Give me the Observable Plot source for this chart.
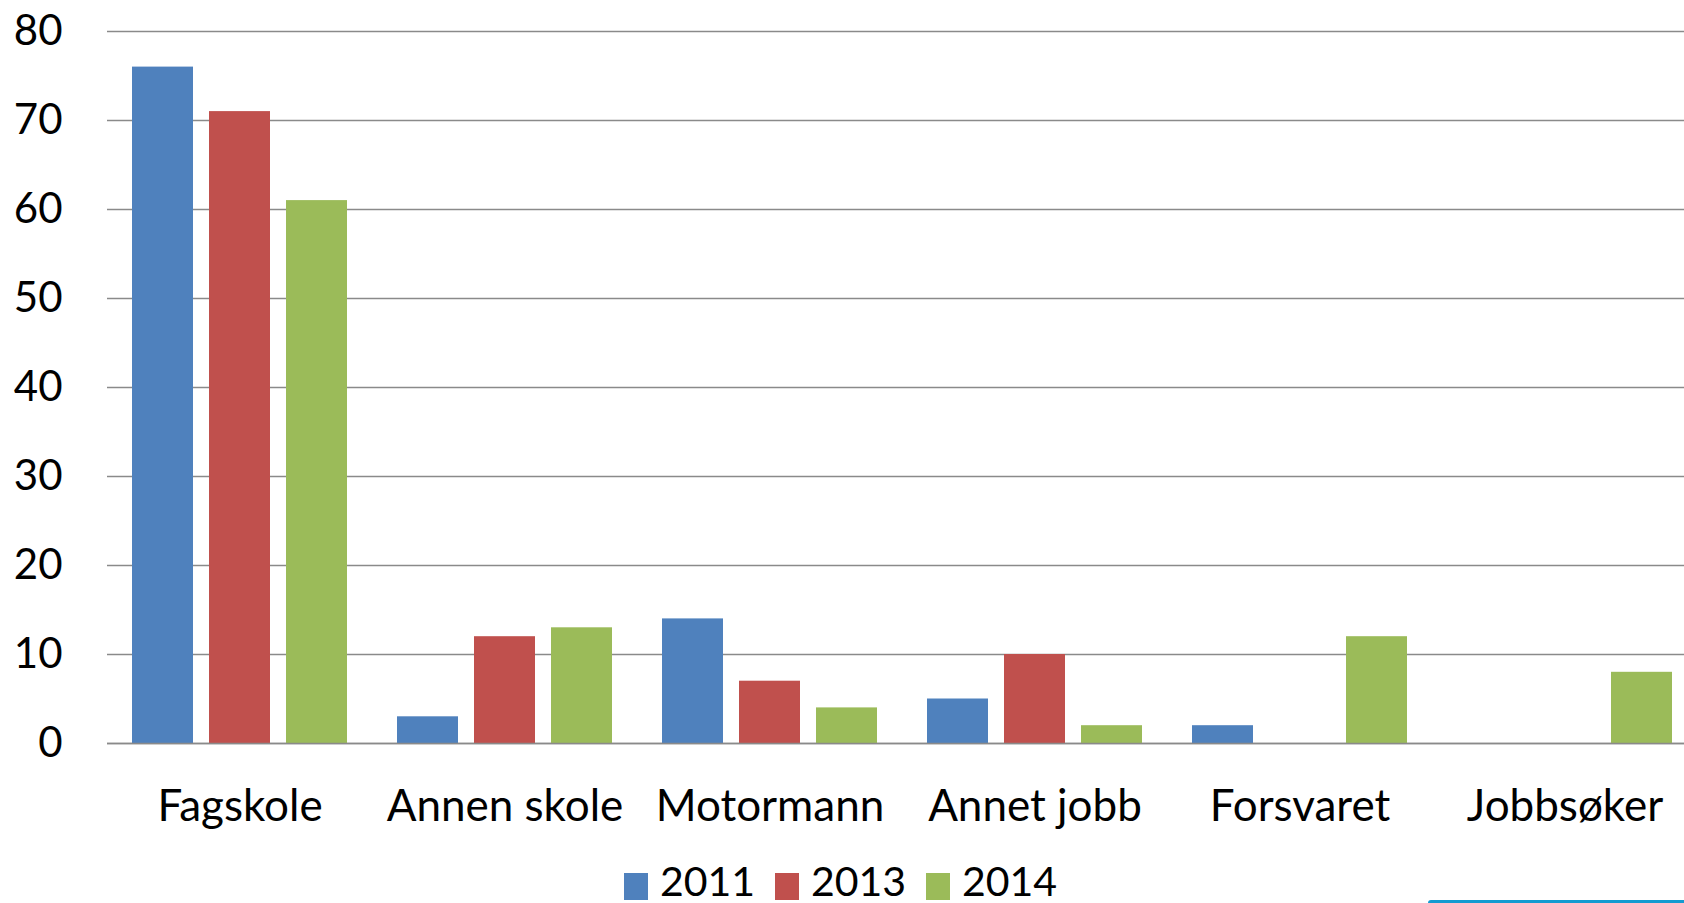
<!DOCTYPE html>
<html>
<head>
<meta charset="utf-8">
<script src="https://cdn.jsdelivr.net/npm/d3@7"></script>
<script src="https://cdn.jsdelivr.net/npm/@observablehq/plot@0.6"></script>
<style>
  html, body { margin: 0; padding: 0; background: #fff; overflow: hidden; }
  body { width: 1684px; height: 903px; position: relative; overflow: hidden; font-family: Lato, "Open Sans", sans-serif; }
  #chart { position: absolute; left: 0; top: 0; width: 1684px; height: 850px; overflow: hidden; }
  #chart svg { max-width: none !important; width: 1697px !important; height: 850px !important; }
  #legend { position: absolute; left: 624px; top: 861px; display: flex; align-items: center; height: 40px; }
  .item { display: flex; align-items: center; width: 151px; }
  .sw { width: 24px; height: 27px; margin-right: 12px; margin-top: 10px; }
  .lbl { font-size: 41px; line-height: 40px; color: #000; }
  #deco { position: absolute; left: 1428px; top: 900px; width: 256px; height: 3px; background: #139bd1; border-top-left-radius: 6px; }
</style>
</head>
<body>
<div id="chart"></div>
<div id="legend"></div>
<div id="deco"></div>
<script>
const categories = ["Fagskole", "Annen skole", "Motormann", "Annet jobb", "Forsvaret", "Jobbsøker"];
const years = ["2011", "2013", "2014"];
const values2011 = [76, 3, 14, 5, 2, null];
const values2013 = [71, 12, 7, 10, null, null];
const values2014 = [61, 13, 4, 2, 12, 8];
const colors = ["#4F81BD", "#C0504D", "#9BBB59"];
const yTicks = [0, 10, 20, 30, 40, 50, 60, 70, 80];

const series = [values2011, values2013, values2014];
const data = [];
categories.forEach((c, i) => {
  years.forEach((y, j) => {
    const v = series[j][i];
    if (v != null) data.push({cat: c, year: y, value: v});
  });
});

const chart = Plot.plot({
  width: 1697,
  height: 850,
  marginLeft: 107,
  marginRight: 0,
  marginTop: 31,
  marginBottom: 107,
  style: {fontFamily: "Lato, 'Open Sans', sans-serif", background: "#fff", color: "#000"},
  fx: {domain: categories, paddingInner: 0, paddingOuter: 0, label: null},
  x: {domain: years, paddingInner: 0.205, paddingOuter: 0.302, axis: null},
  y: {domain: [0, 80], ticks: yTicks, label: null},
  color: {domain: years, range: colors},
  marks: [
    Plot.gridY(yTicks, {stroke: "#8a8a8a", strokeOpacity: 1, strokeWidth: 1.5, facetAnchor: null}),
    Plot.axisY(yTicks, {anchor: "left", tickSize: 0, tickPadding: 45, fontSize: 42, label: null}),
    Plot.axisFx({anchor: "bottom", tickSize: 0, tickPadding: 46, fontSize: 44, label: null}),
    Plot.barY(data, {fx: "cat", x: "year", y: "value", fill: "year"}),
    Plot.ruleY([0], {stroke: "#8a8a8a", strokeWidth: 1.5, facetAnchor: null})
  ]
});
document.getElementById("chart").appendChild(chart);

const legend = document.getElementById("legend");
years.forEach((y, i) => {
  const item = document.createElement("div");
  item.className = "item";
  const sw = document.createElement("div");
  sw.className = "sw";
  sw.style.background = colors[i];
  const lbl = document.createElement("span");
  lbl.className = "lbl";
  lbl.textContent = y;
  item.appendChild(sw);
  item.appendChild(lbl);
  legend.appendChild(item);
});
</script>
</body>
</html>
